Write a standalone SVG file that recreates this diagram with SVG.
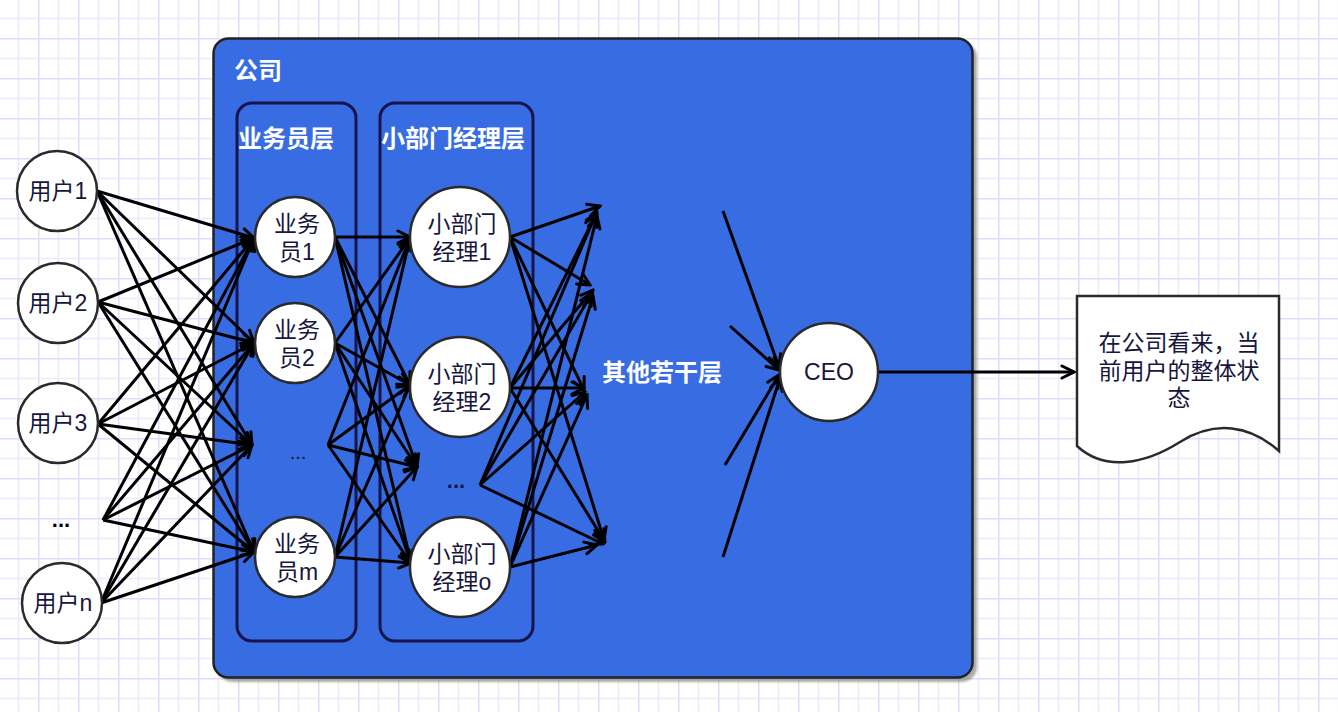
<svg xmlns="http://www.w3.org/2000/svg" width="1338" height="712" viewBox="0 0 1338 712">
<defs>
<pattern id="grid" x="38" y="38" width="40" height="40" patternUnits="userSpaceOnUse">
<rect width="40" height="40" fill="#ffffff"/>
<path d="M20.5,0 V40 M0,20.5 H40" stroke="#eceafc" stroke-width="1.5" fill="none"/>
<path d="M0.5,0 V40 M0,0.5 H40" stroke="#dfdcfa" stroke-width="2" fill="none"/>
</pattern>
<marker id="arr" markerUnits="userSpaceOnUse" markerWidth="16" markerHeight="16" viewBox="0 0 16 16" refX="14" refY="8" orient="auto">
<path d="M2,2 L14,8 L2,14" fill="none" stroke="#000" stroke-width="3" stroke-linecap="round" stroke-linejoin="miter"/>
</marker>
<filter id="sh" x="-5%" y="-5%" width="110%" height="110%">
<feGaussianBlur stdDeviation="1.2"/>
</filter>
</defs>
<style>
text{font-family:"Liberation Sans","Noto Sans CJK SC",sans-serif;}
.nt{font-size:23px;fill:#16163e;text-anchor:middle;}
.lb{font-size:24px;font-weight:bold;fill:#ffffff;}
.c{fill:#ffffff;stroke:#2a2a2a;stroke-width:2.5;}
.layer{fill:none;stroke:#17144c;stroke-width:3;}
.e line{stroke:#000;stroke-width:3;marker-end:url(#arr);}
</style>
<rect width="1338" height="712" fill="url(#grid)"/>

<g id="company">
<rect x="217" y="42" width="760" height="640" rx="15" fill="#888" opacity="0.7" filter="url(#sh)"/>
<rect x="213.5" y="38.5" width="759" height="639" rx="15" fill="#386ce2" stroke="#222222" stroke-width="2.5"/>
<text class="lb" x="234" y="79">公司</text>
</g>
<g id="layer-staff">
<rect class="layer" x="237" y="103" width="119" height="538" rx="15"/>
<text class="lb" x="238" y="147">业务员层</text>
</g>
<g id="layer-managers">
<rect class="layer" x="380" y="103" width="153" height="538" rx="15"/>
<text class="lb" x="381" y="147">小部门经理层</text>
</g>
<g id="other-layers">
<text class="lb" x="602" y="381">其他若干层</text>
</g>

<g id="connectors" class="e">
<line x1="97" y1="191" x2="254" y2="238"/>
<line x1="97" y1="191" x2="254" y2="343"/>
<line x1="97" y1="191" x2="252" y2="445"/>
<line x1="97" y1="191" x2="254" y2="552"/>
<line x1="98" y1="302" x2="254" y2="238"/>
<line x1="98" y1="302" x2="254" y2="343"/>
<line x1="98" y1="302" x2="252" y2="445"/>
<line x1="98" y1="302" x2="254" y2="552"/>
<line x1="98" y1="424" x2="254" y2="238"/>
<line x1="98" y1="424" x2="254" y2="343"/>
<line x1="98" y1="424" x2="252" y2="445"/>
<line x1="98" y1="424" x2="254" y2="552"/>
<line x1="103" y1="520" x2="254" y2="238"/>
<line x1="103" y1="520" x2="254" y2="343"/>
<line x1="103" y1="520" x2="252" y2="445"/>
<line x1="103" y1="520" x2="254" y2="552"/>
<line x1="101" y1="603" x2="254" y2="238"/>
<line x1="101" y1="603" x2="254" y2="343"/>
<line x1="101" y1="603" x2="252" y2="445"/>
<line x1="101" y1="603" x2="254" y2="552"/>
<line x1="335" y1="237" x2="410" y2="237"/>
<line x1="335" y1="237" x2="410" y2="385"/>
<line x1="335" y1="237" x2="417" y2="467"/>
<line x1="335" y1="237" x2="411" y2="563"/>
<line x1="335" y1="343" x2="410" y2="238"/>
<line x1="335" y1="343" x2="410" y2="385"/>
<line x1="335" y1="343" x2="417" y2="467"/>
<line x1="335" y1="343" x2="411" y2="563"/>
<line x1="328" y1="445" x2="410" y2="238"/>
<line x1="328" y1="445" x2="410" y2="385"/>
<line x1="328" y1="445" x2="417" y2="467"/>
<line x1="328" y1="445" x2="411" y2="563"/>
<line x1="335" y1="557" x2="410" y2="238"/>
<line x1="335" y1="557" x2="410" y2="385"/>
<line x1="335" y1="557" x2="417" y2="467"/>
<line x1="335" y1="557" x2="411" y2="563"/>
<line x1="510" y1="237" x2="600" y2="206"/>
<line x1="510" y1="237" x2="590" y2="285"/>
<line x1="510" y1="237" x2="584" y2="390"/>
<line x1="510" y1="237" x2="604" y2="540"/>
<line x1="510" y1="388" x2="597" y2="212"/>
<line x1="510" y1="388" x2="593" y2="290"/>
<line x1="510" y1="388" x2="584" y2="388"/>
<line x1="510" y1="388" x2="605" y2="542"/>
<line x1="480" y1="485" x2="596" y2="214"/>
<line x1="480" y1="485" x2="592" y2="293"/>
<line x1="480" y1="485" x2="585" y2="392"/>
<line x1="480" y1="485" x2="603" y2="544"/>
<line x1="510" y1="567" x2="597" y2="216"/>
<line x1="510" y1="567" x2="593" y2="296"/>
<line x1="510" y1="567" x2="587" y2="395"/>
<line x1="510" y1="567" x2="597" y2="545"/>
<line x1="723" y1="211" x2="779" y2="367"/>
<line x1="730" y1="326" x2="779" y2="370"/>
<line x1="725" y1="465" x2="779" y2="375"/>
<line x1="723" y1="557" x2="780" y2="378"/>
<line x1="878" y1="372" x2="1074" y2="372"/>
</g>

<g id="user1"><circle class="c" cx="57" cy="191" r="40"/><text class="nt" x="58" y="199">用户1</text></g>
<g id="user2"><circle class="c" cx="58" cy="303" r="40"/><text class="nt" x="58" y="311">用户2</text></g>
<g id="user3"><circle class="c" cx="58" cy="423" r="40"/><text class="nt" x="58" y="431">用户3</text></g>
<g id="user-dots"><text x="61" y="527" style="font-size:22px;font-weight:bold;fill:#000;text-anchor:middle">...</text></g>
<g id="usern"><circle class="c" cx="62" cy="603" r="40"/><text class="nt" x="63" y="611">用户n</text></g>

<g id="staff1"><circle class="c" cx="295" cy="237" r="40"/><text class="nt" x="297" y="232">业务</text><text class="nt" x="297" y="260">员1</text></g>
<g id="staff2"><circle class="c" cx="295" cy="343" r="40"/><text class="nt" x="297" y="338">业务</text><text class="nt" x="297" y="366">员2</text></g>
<g id="staff-dots"><text x="298" y="459" style="font-size:20px;fill:#16163e;text-anchor:middle">...</text></g>
<g id="staffm"><circle class="c" cx="295" cy="557" r="40"/><text class="nt" x="297" y="552">业务</text><text class="nt" x="297" y="580">员m</text></g>

<g id="manager1"><circle class="c" cx="460" cy="237" r="50"/><text class="nt" x="462" y="232">小部门</text><text class="nt" x="462" y="260">经理1</text></g>
<g id="manager2"><circle class="c" cx="460" cy="387" r="50"/><text class="nt" x="462" y="382">小部门</text><text class="nt" x="462" y="410">经理2</text></g>
<g id="manager-dots"><text x="456" y="488" style="font-size:22px;font-weight:bold;fill:#16163e;text-anchor:middle">...</text></g>
<g id="managero"><circle class="c" cx="460" cy="567" r="50"/><text class="nt" x="462" y="562">小部门</text><text class="nt" x="462" y="590">经理o</text></g>

<g id="ceo"><circle class="c" cx="829" cy="372" r="49"/><text class="nt" x="829" y="380">CEO</text></g>

<g id="result">
<path d="M1077,296 L1279,296 L1279,451 C1250,425 1215,420 1180,442 C1145,464 1105,472 1077,446 Z" fill="#ffffff" stroke="#2a2a2a" stroke-width="2.5"/>
<text class="nt" x="1179" y="351">在公司看来，当</text>
<text class="nt" x="1179" y="379">前用户的整体状</text>
<text class="nt" x="1179" y="406">态</text>
</g>
</svg>
